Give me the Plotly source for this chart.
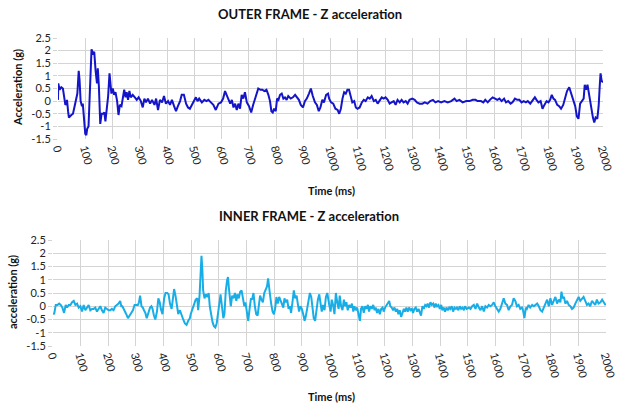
import plotly.graph_objects as go

# ---------------- data ----------------
outer_time_ms = [0, 1, 6, 12, 18, 22, 27, 30, 33, 37, 40, 49, 55, 61, 67, 71, 76, 79, 83, 88, 91, 95, 100, 104, 107, 112, 116, 121, 123, 128, 133, 138, 143, 146, 150, 155, 160, 165, 170, 174, 179, 184, 189, 193, 196, 201, 206, 211, 217, 222, 227, 233, 238, 243, 248, 252, 257, 262, 267, 274, 282, 289, 296, 304, 311, 317, 323, 330, 338, 345, 354, 360, 367, 374, 382, 389, 396, 404, 411, 418, 426, 433, 440, 448, 454, 462, 470, 477, 484, 491,
                 494, 506, 512, 518, 528, 537, 545, 552, 561, 570, 579, 589, 598, 606, 613, 620, 626, 632, 638, 644, 650, 656, 662, 668, 674, 680, 686, 693, 701, 709, 716, 723, 730, 735, 743, 750, 757, 765, 772, 778, 783, 788, 793, 799, 804, 809, 815, 821, 827, 833, 839, 845, 854, 862, 870, 877, 884, 891, 899, 906, 913, 921, 928, 935, 943, 950, 957, 963, 970, 976, 984, 991,
                 995, 1002, 1010, 1018, 1026, 1032, 1038, 1044, 1050, 1056, 1062, 1068, 1074, 1080, 1087, 1093, 1099, 1107, 1115, 1122, 1129, 1137, 1144, 1151, 1159, 1166, 1173, 1180, 1188, 1195, 1202, 1210, 1217, 1224, 1232, 1239, 1246, 1254, 1261, 1268, 1276, 1283, 1290, 1300, 1309, 1317, 1327, 1337, 1346, 1356, 1366, 1376, 1385, 1395, 1406, 1418, 1430, 1443, 1455, 1463, 1473, 1485, 1498,
                 1510, 1522, 1532, 1540, 1552, 1561, 1568, 1577, 1585, 1595, 1604, 1612, 1620, 1628, 1637, 1644, 1652, 1661, 1668, 1677, 1685, 1693, 1701, 1709, 1717, 1724, 1733, 1741, 1750, 1756, 1763, 1771, 1778, 1785, 1793, 1800, 1806, 1812, 1818, 1824, 1832, 1839, 1846, 1854, 1861, 1868, 1876, 1883, 1890, 1898, 1904, 1910, 1916, 1922, 1929, 1933, 1938, 1943, 1948, 1954, 1959, 1963, 1968, 1973, 1979, 1984, 1988, 1991, 1995, 2000]
outer_accel_g = [0.05, 0.7, 0.45, 0.55, 0.5, 0.1, -0.15, -0.1, 0.05, -0.4, -0.65, -0.55, -0.5, -0.2, 0.2, 0.3, 1.2, 0.85, 0.0, -0.2, -0.1, -0.6, -1.3, -1.35, -1.1, -1.0, 0.0, 1.5, 2.05, 1.9, 1.95, 1.2, 0.7, 1.3, 0.6, -0.9, -0.5, -0.5, -0.45, -0.8, -0.4, 0.2, 1.1, 0.5, 0.3, 0.5, 0.25, 0.35, 0.0, -0.55, -0.15, -0.2, 0.1, 0.45, 0.15, 0.35, 0.05, 0.4, 0.15, 0.25, 0.15, 0.05, 0.15, 0.0, -0.25, 0.1, -0.05, 0.1, -0.1, 0.05, -0.15, 0.1, -0.35, 0.05, -0.05, 0.2, -0.1, 0.0, -0.15, 0.05, -0.2, -0.4, -0.2, 0.0, 0.25, 0.25, -0.1, -0.25, -0.3, -0.15,
                 -0.1, 0.15, 0.0, 0.1, -0.05, 0.05, 0.0, 0.05, -0.05, -0.15, -0.35, -0.1, -0.05, 0.1, 0.4, 0.2, 0.05, -0.1, 0.05, -0.25, -0.1, -0.35, -0.1, -0.3, 0.25, 0.1, 0.35, -0.05, -0.2, -0.45, -0.15, 0.1, 0.25, 0.5, 0.45, 0.45, 0.4, 0.45, 0.25, 0.0, -0.4, -0.45, -0.3, -0.4, 0.1, 0.05, 0.25, 0.3, 0.1, 0.15, 0.05, 0.2, 0.1, 0.15, 0.25, 0.15, 0.05, -0.15, -0.25, 0.0, 0.1, 0.3, 0.5, 0.2, -0.05, -0.15, -0.4, -0.25, 0.05, -0.05, 0.25, 0.3,
                 0.1, -0.05, -0.1, -0.3, -0.35, -0.5, -0.3, 0.1, 0.35, 0.3, 0.45, 0.45, 0.2, -0.05, 0.0, -0.25, -0.3, -0.25, -0.05, 0.05, 0.0, 0.15, 0.1, 0.2, 0.0, 0.05, -0.1, 0.0, 0.15, 0.1, 0.15, 0.05, -0.1, -0.05, 0.0, -0.15, 0.05, -0.05, 0.05, -0.05, 0.0, -0.1, 0.05, 0.1, 0.05, -0.05, -0.1, -0.1, -0.05, -0.1, 0.0, 0.05, -0.05, 0.0, -0.05, 0.0, -0.05, 0.0, 0.1, 0.0, 0.05, -0.05, 0.0,
                 0.0, 0.05, 0.05, 0.0, 0.0, -0.05, 0.05, -0.05, 0.05, 0.15, 0.1, 0.05, 0.1, 0.0, 0.1, -0.05, 0.0, -0.1, -0.05, 0.1, 0.05, 0.05, -0.05, 0.0, -0.05, 0.0, -0.1, 0.0, 0.15, 0.05, -0.05, 0.0, -0.3, -0.15, 0.0, -0.05, 0.05, 0.25, 0.1, 0.05, -0.15, -0.2, -0.3, -0.15, 0.1, 0.4, 0.55, 0.3, 0.0, -0.2, -0.6, -0.7, -0.1, 0.0, 0.1, 0.65, 0.45, 0.65, 0.3, -0.1, -0.5, -0.65, -0.85, -0.65, -0.7, -0.2, 0.6, 1.1, 0.8, 0.75]

inner_time_ms = [0, 4, 10, 16, 22, 28, 34, 40, 46, 51, 57, 63, 69, 75, 81, 87, 93, 99, 105, 111, 117, 123, 129, 135, 141, 147, 153, 159, 165, 171, 177, 183, 189, 195, 201, 207, 213, 219, 225, 231, 237, 243, 247, 251, 259, 265, 271, 277, 283, 289, 295, 301, 307, 311, 315, 320, 325, 329, 334, 339, 345, 351, 356, 360, 365, 370, 376, 381, 386, 390, 396, 402, 407, 413, 418, 423, 429, 434, 438, 443, 448, 453, 459, 465, 471, 477, 483, 489, 495,
                 498, 504, 510, 516, 522, 525, 530, 534, 537, 540, 543, 548, 553, 558, 563, 567, 572, 577, 582, 587, 592, 596, 601, 606, 611, 616, 620, 625, 630, 633, 636, 640, 643, 648, 653, 658, 663, 667, 672, 677, 682, 687, 692, 696, 701, 706, 711, 716, 720, 725, 730, 735, 740, 745, 749, 754, 759, 764, 769, 774, 778, 781, 784, 789, 794, 799, 804, 808, 813, 818, 823, 828, 833, 837, 842, 847, 852, 857, 861, 866, 871, 876, 881, 886, 890, 895, 900, 905, 910, 914, 919, 924, 929, 934, 939, 943, 948, 953, 958, 963, 967, 972, 977, 982, 987, 992,
                 999, 1004, 1008, 1013, 1018, 1023, 1028, 1033, 1037, 1042, 1047, 1052, 1057, 1061, 1066, 1071, 1076, 1081, 1086, 1090, 1095, 1100, 1105, 1110, 1114, 1119, 1124, 1129, 1134, 1139, 1143, 1148, 1153, 1158, 1163, 1167, 1172, 1177, 1182, 1187, 1192, 1196, 1201, 1206, 1211, 1216, 1220, 1225, 1230, 1235, 1240, 1245, 1249, 1254, 1259, 1264, 1269, 1273, 1278, 1283, 1288, 1293, 1298, 1302, 1307, 1312, 1317, 1322, 1327, 1331, 1336, 1341, 1346, 1351, 1355, 1360, 1365, 1370, 1375, 1380, 1384, 1389, 1394, 1399, 1404, 1408, 1413, 1418, 1423, 1428, 1433, 1437, 1442, 1447, 1452, 1457, 1461, 1466, 1471, 1476, 1481, 1486, 1490, 1496,
                 1504, 1510, 1516, 1522, 1528, 1534, 1540, 1546, 1552, 1558, 1564, 1570, 1576, 1582, 1588, 1594, 1600, 1606, 1612, 1618, 1624, 1630, 1636, 1642, 1648, 1654, 1660, 1666, 1672, 1678, 1684, 1690, 1696, 1700, 1705, 1710, 1714, 1720, 1726, 1733, 1739, 1745, 1751, 1757, 1763, 1769, 1775, 1781, 1787, 1793, 1799, 1805, 1811, 1817, 1823, 1829, 1835, 1839, 1843, 1848, 1853, 1859, 1865, 1871, 1877, 1883, 1889, 1895, 1901, 1907, 1913, 1919, 1925, 1931, 1937, 1943, 1949, 1955, 1961, 1967, 1973, 1980, 1986, 1992, 1998, 2000]
inner_accel_g = [-0.25, -0.3, 0.05, 0.05, 0.1, 0.05, -0.05, -0.25, 0.05, -0.05, 0.05, 0.05, 0.15, 0.2, 0.05, 0.1, -0.05, 0.0, -0.2, 0.05, -0.15, -0.05, 0.05, -0.15, -0.1, -0.1, -0.05, -0.2, -0.1, 0.0, -0.15, -0.25, -0.05, -0.1, -0.15, -0.15, -0.1, -0.15, 0.0, 0.05, 0.1, 0.2, 0.0, 0.0, -0.15, -0.3, -0.45, -0.35, -0.25, -0.15, 0.05, 0.05, 0.05, 0.15, 0.4, 0.0, -0.05, -0.15, -0.25, -0.45, -0.2, -0.05, 0.0, -0.1, -0.35, -0.5, -0.2, 0.3, 0.15, -0.1, -0.3, 0.3, 0.5, 0.5, 0.45, 0.1, -0.1, 0.3, 0.65, 0.4, 0.0, -0.3, -0.15, -0.35, -0.5, -0.65, -0.7, -0.55, -0.45,
                 -0.3, -0.1, 0.1, 0.25, 0.3, -0.15, 0.4, 1.2, 1.9, 1.4, 0.6, 0.3, 0.45, 0.35, 0.5, 0.0, -0.4, -0.6, -0.75, -0.8, -0.65, -0.3, 0.15, 0.45, 0.0, -0.45, -0.3, 0.6, 1.0, 1.1, 0.7, 0.05, 0.0, 0.4, 0.3, 0.5, 0.2, 0.45, 0.3, 0.55, 0.6, 0.3, 0.0, 0.15, -0.25, -0.55, -0.1, 0.3, 0.25, 0.5, 0.0, -0.3, -0.35, 0.1, 0.4, 0.25, 0.15, 0.5, 0.65, 0.75, 1.05, 0.6, 0.5, 0.1, -0.2, -0.3, -0.05, 0.35, 0.1, 0.35, 0.2, 0.05, -0.05, 0.3, 0.15, 0.25, -0.1, 0.0, -0.25, 0.15, 0.6, 0.3, 0.4, 0.05, -0.2, 0.0, -0.1, -0.3, -0.55, -0.4, -0.1, 0.15, 0.5, 0.35, 0.0, -0.45, -0.55, -0.1, 0.25, 0.45, 0.2, -0.2, 0.05, -0.15, 0.35, 0.5,
                 0.05, -0.2, 0.25, 0.05, -0.3, 0.5, 0.15, -0.1, 0.4, 0.0, -0.15, 0.25, 0.0, 0.15, -0.15, 0.05, -0.05, 0.1, -0.2, 0.0, -0.15, -0.05, -0.3, -0.55, -0.1, 0.0, -0.25, 0.0, -0.1, 0.05, -0.2, 0.0, -0.1, 0.05, -0.15, -0.05, -0.25, -0.1, -0.3, -0.1, -0.05, -0.2, -0.05, 0.05, 0.1, 0.2, 0.0, -0.05, -0.15, -0.05, -0.2, -0.1, -0.3, -0.15, -0.4, -0.2, -0.1, -0.2, -0.05, -0.2, -0.05, -0.15, -0.1, -0.25, -0.1, -0.05, -0.2, -0.1, -0.25, -0.35, 0.0, -0.1, 0.05, 0.0, 0.1, -0.05, 0.15, 0.05, 0.1, -0.05, 0.1, 0.0, 0.05, -0.1, 0.05, -0.15, -0.05, -0.2, -0.05, -0.15, -0.05, -0.1, 0.0, -0.2, -0.05, -0.1, -0.05, -0.15, 0.0, -0.1, -0.05, -0.15, 0.0, -0.1,
                 -0.05, -0.1, 0.0, 0.05, -0.1, 0.1, -0.05, -0.15, 0.0, -0.2, 0.0, -0.05, 0.05, 0.0, 0.05, 0.15, 0.0, -0.1, -0.2, -0.1, 0.1, 0.3, 0.1, 0.05, -0.15, 0.0, 0.05, 0.3, 0.2, 0.0, 0.05, -0.1, -0.05, -0.15, -0.45, -0.05, -0.1, 0.05, -0.05, 0.05, 0.0, 0.05, 0.1, 0.0, -0.15, -0.2, -0.05, 0.1, 0.25, 0.0, 0.3, 0.05, 0.2, 0.35, 0.1, 0.25, 0.15, 0.55, 0.3, 0.35, 0.1, 0.2, 0.05, 0.0, -0.1, -0.05, 0.1, 0.25, 0.35, 0.2, 0.3, 0.35, 0.2, 0.05, 0.1, 0.0, 0.2, 0.1, 0.05, 0.25, 0.1, 0.15, 0.25, 0.15, 0.05, 0.1]

x_ticks = list(range(0, 2001, 100))
y_ticks = [-1.5, -1, -0.5, 0, 0.5, 1, 1.5, 2, 2.5]
y_tick_labels = ["-1.5", "-1", "-0.5", "0", "0.5", "1", "1.5", "2", "2.5"]

top_title = "OUTER FRAME - Z acceleration"
bottom_title = "INNER FRAME - Z acceleration"
top_ylabel = "Acceleration (g)"
bottom_ylabel = "acceleration (g)"
xlabel = "Time (ms)"

# ---------------- figure ----------------
W, H = 617, 405
FONT = "Lato, 'Open Sans', Arial, sans-serif"
GRID = "#d4d4d4"

fig = go.Figure()
fig.add_trace(go.Scatter(x=outer_time_ms, y=outer_accel_g, mode="lines",
                         line=dict(color="#1414c8", width=2), xaxis="x", yaxis="y",
                         showlegend=False, hoverinfo="skip"))
fig.add_trace(go.Scatter(x=inner_time_ms, y=inner_accel_g, mode="lines",
                         line=dict(color="#17aee8", width=2), xaxis="x2", yaxis="y2",
                         showlegend=False, hoverinfo="skip"))

def px_x(p):
    return p / W

def px_y(p):
    return 1 - p / H

xcommon = dict(range=[0, 2000], tickvals=x_ticks, ticktext=[str(v) for v in x_ticks],
               tickangle=75, showgrid=True, gridcolor=GRID, gridwidth=1, zeroline=False,
               showline=False, ticks="", automargin=False, ticklabeloverflow="allow",
               tickfont=dict(family=FONT, size=11, color="#222"))
ycommon = dict(range=[-1.5, 2.5], tickvals=y_ticks, ticktext=y_tick_labels,
               showgrid=True, gridcolor=GRID, gridwidth=1, zeroline=False, showline=False,
               ticks="outside", ticklen=4, tickcolor=GRID, automargin=False,
               tickfont=dict(family=FONT, size=11, color="#222"))

fig.update_layout(
    width=W, height=H,
    margin=dict(l=0, r=0, t=0, b=0, autoexpand=False),
    paper_bgcolor="white", plot_bgcolor="white",
    hovermode=False,
    xaxis=dict(domain=[px_x(58), px_x(603)], anchor="y", **xcommon),
    yaxis=dict(domain=[px_y(139), px_y(38)], anchor="x", **ycommon),
    xaxis2=dict(domain=[px_x(53), px_x(606)], anchor="y2", **xcommon),
    yaxis2=dict(domain=[px_y(346), px_y(240)], anchor="x2", **ycommon),
)

def ann(text, x, y, size, angle=0):
    fig.add_annotation(text="<b>%s</b>" % text, x=px_x(x), y=px_y(y), xref="paper", yref="paper",
                       showarrow=False, textangle=angle, xanchor="center", yanchor="middle",
                       font=dict(family=FONT, size=size, color="#111"))

ann(top_title, 310, 14, 13)
ann(bottom_title, 309, 216, 13)
ann(top_ylabel, 18, 88, 11, -90)
ann(bottom_ylabel, 12, 292, 11, -90)
ann(xlabel, 331, 190, 11)
ann(xlabel, 331, 396, 11)

fig.write_html("out.html", config={"displayModeBar": False, "staticPlot": True},
               post_script="document.body.style.margin='0px';document.body.style.overflow='hidden';")
